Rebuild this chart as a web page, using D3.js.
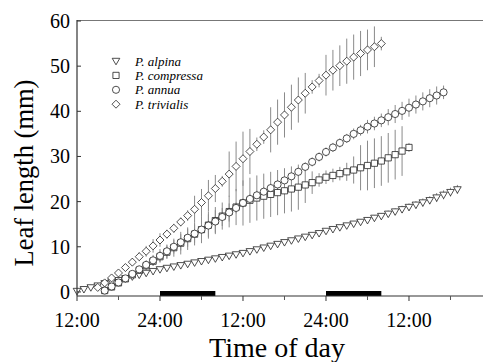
<!DOCTYPE html>
<html>
<head>
<meta charset="utf-8">
<script src="https://cdn.jsdelivr.net/npm/d3@7/dist/d3.min.js"></script>
<style>
  body { margin: 0; background: #fff; }
  svg { display: block; font-family: "Liberation Serif", "Times New Roman", Times, serif; }
</style>
</head>
<body>
<div id="chart"></div>
<script>
// hours since the first 12:00 (noon)
const hours = [0,1,2,3,4,5,6,7,8,9,10,11,12,13,14,15,16,17,18,19,20,21,22,23,24,25,26,27,
  28,29,30,31,32,33,34,35,36,37,38,39,40,41,42,43,44,45,46,47,48,49,50,51,52,53,54,55];

const alpina = [0.2,0.6,1.0,1.4,1.9,2.3,2.6,3.0,3.4,3.8,4.2,4.6,5.0,5.3,5.6,5.9,6.2,6.5,6.8,7.1,
  7.4,7.7,8.0,8.3,8.6,9.0,9.4,9.8,10.2,10.6,11.0,11.4,11.8,12.2,12.6,13.0,13.5,13.9,14.3,14.7,
  15.1,15.5,15.9,16.4,16.8,17.3,17.8,18.3,18.8,19.3,19.8,20.3,20.9,21.5,22.1,22.7];
const alpinaErr = [0.3,0.3,0.3,0.3,0.3,0.3,0.3,0.3,0.3,0.3,0.3,0.3,0.3,0.3,0.3,0.3,0.3,0.3,0.3,0.3,
  0.3,0.3,0.3,0.3,0.3,0.3,0.3,0.3,0.3,0.3,0.3,0.3,0.3,0.3,0.4,0.4,0.4,0.4,0.5,0.5,
  0.5,0.5,0.6,0.6,0.6,0.7,0.7,0.8,0.8,0.8,0.9,0.9,1.0,1.0,1.0,1.0];

const compressa = [null,null,null,null,0.3,1.1,2.0,2.9,3.8,4.8,5.8,6.8,7.8,8.8,9.8,10.8,11.8,12.8,13.8,14.8,
  15.8,16.8,17.8,18.8,19.7,20.3,20.8,21.2,21.6,22.0,22.4,22.8,23.2,23.7,24.2,24.8,25.4,25.8,26.2,26.6,
  27.0,27.5,28.0,28.5,29.0,29.7,30.4,31.2,32.0,null,null,null,null,null,null,null];
const compressaErr = [null,null,null,null,0.4,0.5,0.5,0.6,0.7,0.8,0.9,1.0,1.2,1.5,2.0,2.5,2.5,2.5,3.0,3.0,
  3.0,3.0,3.5,4.0,5.0,5.0,5.0,5.0,5.0,5.0,5.0,5.0,5.0,4.0,2.5,1.5,1.5,1.5,1.5,2.0,
  3.0,5.0,5.5,5.5,5.5,5.5,5.5,5.5,1.0,null,null,null,null,null,null,null];

const annua = [null,null,null,null,0.3,1.2,2.1,3.0,4.0,5.0,6.0,7.0,8.0,9.0,10.0,11.0,12.0,12.9,13.8,14.7,
  15.6,16.6,17.6,18.6,19.7,20.6,21.4,22.2,23.0,23.8,24.7,25.6,26.6,27.7,28.8,29.9,31.0,32.0,33.0,34.0,
  35.0,35.8,36.6,37.3,38.0,38.7,39.4,40.1,40.8,41.5,42.2,42.9,43.5,44.2,null,null];
const annuaErr = [null,null,null,null,0.4,0.4,0.5,0.5,0.6,0.8,1.0,1.2,1.5,1.5,1.5,1.8,2.0,2.0,2.0,2.5,
  2.5,2.0,2.0,1.2,1.0,1.0,1.0,1.0,1.0,1.0,1.0,1.0,1.0,1.0,1.0,1.0,1.0,1.0,1.0,1.0,
  1.2,1.2,1.5,1.5,1.5,1.8,2.0,2.0,2.0,2.0,2.0,2.0,2.0,1.5,null,null];

const trivialis = [null,null,null,1.0,2.0,3.1,4.2,5.4,6.6,7.8,9.0,10.2,11.5,12.8,14.1,15.5,16.9,18.3,19.8,21.3,
  22.9,24.5,26.1,27.8,29.5,31.1,32.7,34.3,35.9,37.6,39.2,40.9,42.5,44.0,45.4,46.8,48.0,49.1,50.1,51.1,
  52.0,52.8,53.6,54.3,55.0,null,null,null,null,null,null,null,null,null,null,null];
const trivialisErr = [null,null,null,0.5,0.5,0.6,0.7,0.8,0.9,1.0,1.2,1.5,1.5,1.0,1.0,1.0,1.2,3.0,3.0,3.5,
  3.0,1.2,5.0,5.5,6.0,5.0,1.5,1.5,5.0,5.0,5.0,5.0,5.0,4.5,1.5,1.5,4.5,4.5,4.5,5.0,
  5.0,5.0,4.5,4.5,1.5,null,null,null,null,null,null,null,null,null,null,null];

const seriesNames = ["P. alpina", "P. compressa", "P. annua", "P. trivialis"];
const seriesValues = [alpina, compressa, annua, trivialis];
const seriesErrors = [alpinaErr, compressaErr, annuaErr, trivialisErr];
const seriesShapes = ["triangle", "square", "circle", "diamond"];

const xTickHours = [0, 12, 24, 36, 48];
const xTickLabels = ["12:00", "24:00", "12:00", "24:00", "12:00"];
const xMinorHours = [6, 18, 30, 42, 54];
const yTicks = [0, 10, 20, 30, 40, 50, 60];
const nights = [[12, 20], [36, 44]];

const width = 483, height = 362;
const svg = d3.select("#chart").append("svg")
  .attr("width", width).attr("height", height);

const x = d3.scaleLinear().domain([0, 58.7]).range([77, 483]);
const y = d3.scaleLinear().domain([-0.9, 60]).range([296, 21]);

// marker paths, centred on 0,0
function shapePath(kind) {
  if (kind === "triangle") return "M-3.8,-2.7L3.8,-2.7L0,3.8Z";
  if (kind === "square") return "M-3.1,-3.1L3.1,-3.1L3.1,3.1L-3.1,3.1Z";
  if (kind === "diamond") return "M0,-4L4,0L0,4L-4,0Z";
  return d3.symbol(d3.symbolCircle, 40)();
}

// frame top
svg.append("line")
  .attr("x1", 77).attr("x2", width).attr("y1", 20.5).attr("y2", 20.5)
  .attr("stroke", "#777").attr("stroke-width", 1);

// night bars
svg.append("g").selectAll("rect")
  .data(nights)
  .join("rect")
  .attr("x", d => x(d[0]))
  .attr("width", d => x(d[1]) - x(d[0]))
  .attr("y", 291)
  .attr("height", 5)
  .attr("fill", "#000");

// error bars
seriesValues.forEach((vals, i) => {
  const errs = seriesErrors[i];
  const pts = hours.map((h, j) => ({ h, v: vals[j], e: errs[j] })).filter(d => d.v != null);
  svg.append("g")
    .attr("stroke", "#8a8a8a")
    .attr("stroke-width", 1)
    .selectAll("line")
    .data(pts)
    .join("line")
    .attr("x1", d => x(d.h)).attr("x2", d => x(d.h))
    .attr("y1", d => y(d.v - d.e)).attr("y2", d => y(d.v + d.e));
});

// markers
seriesValues.forEach((vals, i) => {
  const pts = hours.map((h, j) => ({ h, v: vals[j] })).filter(d => d.v != null);
  svg.append("g")
    .attr("fill", "#fff")
    .attr("stroke", "#222")
    .attr("stroke-width", 0.8)
    .selectAll("path")
    .data(pts)
    .join("path")
    .attr("d", shapePath(seriesShapes[i]))
    .attr("transform", d => `translate(${x(d.h)},${y(d.v)})`);
});

// x axis
const xAxis = svg.append("g").attr("transform", "translate(0,296)");
xAxis.append("line")
  .attr("x1", 77).attr("x2", width).attr("stroke", "#333").attr("stroke-width", 1.2);
xAxis.selectAll(".major")
  .data(xTickHours)
  .join("line")
  .attr("x1", d => x(d)).attr("x2", d => x(d))
  .attr("y1", 0).attr("y2", 5)
  .attr("stroke", "#333");
xAxis.selectAll(".minor")
  .data(xMinorHours)
  .join("line")
  .attr("x1", d => x(d)).attr("x2", d => x(d))
  .attr("y1", 0).attr("y2", 4)
  .attr("stroke", "#555");
xAxis.selectAll("text")
  .data(xTickHours)
  .join("text")
  .attr("x", d => x(d))
  .attr("y", 31)
  .attr("text-anchor", "middle")
  .attr("font-size", 20)
  .text((d, i) => xTickLabels[i]);

// y axis
const yAxis = svg.append("g");
yAxis.append("line")
  .attr("x1", 77).attr("x2", 77).attr("y1", 20).attr("y2", 296)
  .attr("stroke", "#333").attr("stroke-width", 1.2);
yAxis.selectAll(".tick")
  .data(yTicks)
  .join("line")
  .attr("x1", 77).attr("x2", 81)
  .attr("y1", d => y(d)).attr("y2", d => y(d))
  .attr("stroke", "#333");
yAxis.selectAll("text")
  .data(yTicks)
  .join("text")
  .attr("x", 70)
  .attr("y", d => y(d))
  .attr("dy", "0.35em")
  .attr("text-anchor", "end")
  .attr("font-size", 20)
  .text(d => d);

// axis titles
svg.append("text")
  .attr("x", 277).attr("y", 357)
  .attr("text-anchor", "middle")
  .attr("font-size", 28)
  .text("Time of day");
svg.append("text")
  .attr("transform", "translate(33,173) rotate(-90)")
  .attr("text-anchor", "middle")
  .attr("font-size", 26.5)
  .text("Leaf length (mm)");

// legend
const legend = svg.append("g");
seriesNames.forEach((name, i) => {
  const ly = 61 + i * 14.4;
  legend.append("path")
    .attr("d", shapePath(seriesShapes[i]))
    .attr("transform", `translate(116,${ly})`)
    .attr("fill", "#fff").attr("stroke", "#222").attr("stroke-width", 0.8);
  legend.append("text")
    .attr("x", 135).attr("y", ly)
    .attr("dy", "0.35em")
    .attr("font-size", 13)
    .attr("font-style", "italic")
    .text(name);
});
</script>
</body>
</html>
